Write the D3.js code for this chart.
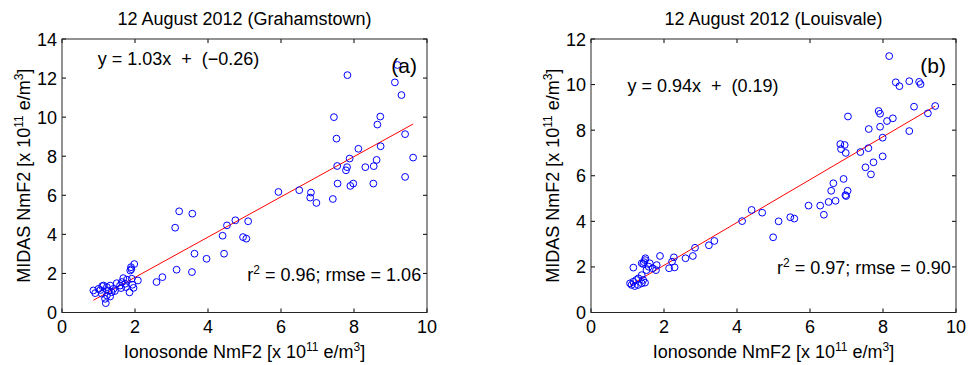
<!DOCTYPE html>
<html>
<head>
<meta charset="utf-8">
<script src="https://cdn.jsdelivr.net/npm/d3@7"></script>
<style>
  body { margin: 0; background: #fff; }
  text { font-family: "Liberation Sans", Arial, Helvetica, sans-serif; fill: #000; }
</style>
</head>
<body>
<div id="chart"></div>
<script>
// Grahamstown: ionosonde (x) vs MIDAS (y) NmF2, x 10^11 e/m^3
var gtX = [9.19, 7.82, 9.12, 9.30, 7.45, 8.72, 8.64, 7.52, 9.40, 8.73, 8.12, 7.88, 9.62, 8.62, 7.54, 7.81, 7.78, 8.31, 8.54, 9.40,
           5.93, 6.50, 6.82, 6.80, 6.97, 7.42, 7.55, 7.90, 7.98, 8.53, 3.21, 3.57, 3.10, 4.52, 4.75, 5.10, 4.40, 4.96, 5.05, 3.63,
           3.96, 4.44, 3.14, 3.56, 2.75, 2.59, 1.98, 1.89, 1.90, 1.87, 2.08, 1.91, 1.78, 1.68, 1.64, 1.50, 1.32, 1.96, 1.85, 1.41,
           1.23, 1.14, 1.00, 0.86, 0.91, 1.09, 1.23, 1.32, 1.18, 1.20, 1.36, 1.59, 1.73, 1.05, 1.45, 1.62, 1.28, 1.75, 1.93, 1.10];
var gtY = [12.67, 12.15, 11.78, 11.13, 10.00, 10.03, 9.62, 8.90, 9.13, 8.51, 8.38, 7.88, 7.93, 7.81, 7.50, 7.44, 7.28, 7.44, 7.49, 6.94,
           6.17, 6.26, 6.14, 5.88, 5.61, 5.81, 6.60, 6.48, 6.60, 6.60, 5.18, 5.06, 4.34, 4.46, 4.72, 4.67, 3.93, 3.86, 3.78, 3.01,
           2.75, 3.01, 2.19, 2.07, 1.81, 1.56, 2.48, 2.32, 2.22, 2.15, 1.64, 1.73, 1.68, 1.76, 1.56, 1.50, 1.38, 1.26, 1.03, 1.21,
           1.30, 1.38, 1.21, 1.13, 0.99, 0.96, 0.87, 0.82, 0.70, 0.48, 1.04, 1.38, 1.47, 1.15, 1.10, 1.25, 1.12, 1.30, 1.42, 1.35];

// Louisvale
var lvX = [8.17, 8.35, 8.45, 8.72, 8.99, 9.03, 8.85, 9.43, 9.23, 7.88, 7.92, 8.27, 8.11, 7.04, 7.61, 7.92, 8.72, 7.99, 6.83, 6.95,
           6.85, 6.98, 7.38, 7.60, 7.99, 7.74, 7.52, 7.67, 6.92, 6.64, 6.58, 7.03, 6.97, 6.99, 6.70, 6.51, 6.28, 5.96, 6.38, 4.40,
           4.69, 4.14, 5.14, 5.46, 5.57, 4.99, 3.38, 3.23, 2.85, 2.79, 2.59, 2.27, 2.22, 2.29, 2.14, 1.89, 1.80, 1.78, 1.69, 1.58,
           1.52, 1.48, 1.45, 1.43, 1.49, 1.39, 1.61, 1.16, 1.39, 1.30, 1.24, 1.43, 1.16, 1.39, 1.11, 1.20, 1.29, 1.07, 1.48];
var lvY = [11.25, 10.10, 9.93, 10.15, 10.12, 10.02, 9.03, 9.06, 8.74, 8.84, 8.72, 8.52, 8.40, 8.60, 8.05, 8.15, 7.96, 7.67, 7.39, 7.35,
           7.17, 7.00, 7.04, 7.21, 6.85, 6.59, 6.37, 6.06, 5.86, 5.67, 5.34, 5.34, 5.15, 5.11, 4.90, 4.85, 4.69, 4.69, 4.29, 4.50,
           4.38, 4.01, 4.00, 4.18, 4.12, 3.30, 3.14, 2.95, 2.84, 2.48, 2.38, 2.42, 2.23, 1.98, 1.94, 2.48, 2.08, 1.86, 1.94, 2.01,
           1.86, 2.30, 2.21, 2.13, 2.38, 2.16, 2.16, 1.97, 1.64, 1.50, 1.43, 1.43, 1.35, 1.28, 1.21, 1.16, 1.21, 1.28, 1.31];

var xTicks = [0, 2, 4, 6, 8, 10];

var panels = [
  { title: "12 August 2012 (Grahamstown)", xs: gtX, ys: gtY, yMax: 14, yTicks: [0, 2, 4, 6, 8, 10, 12, 14],
    slope: 1.03, icpt: -0.26, eq: "y = 1.03x  +  (\u22120.26)", r2: "0.96", rmse: "1.06", tag: "(a)",
    left: 62, eqPos: [0.98, 12.67], statPos: [9.84, 1.6] },
  { title: "12 August 2012 (Louisvale)", xs: lvX, ys: lvY, yMax: 12, yTicks: [0, 2, 4, 6, 8, 10, 12],
    slope: 0.94, icpt: 0.19, eq: "y = 0.94x  +  (0.19)", r2: "0.97", rmse: "0.90", tag: "(b)",
    left: 591, eqPos: [1.0, 9.68], statPos: [9.86, 1.7] }
];

var W = 971, H = 365;
var plotTop = 39, plotBottom = 312.5, pw = 365;
var fs = "18px", sup = "12px";

var svg = d3.select("#chart").append("svg")
  .attr("width", W).attr("height", H);

function addSupLabel(sel, parts) {
  // parts: alternating normal / superscript strings
  parts.forEach(function(t, i) {
    var ts = sel.append("tspan").text(t);
    if (i % 2 === 1) ts.attr("dy", -7).style("font-size", sup);
    else if (i > 0) ts.attr("dy", 7);
  });
}

panels.forEach(function(p) {
  var ph = plotBottom - plotTop;
  var x = d3.scaleLinear().domain([0, 10]).range([0, pw]);
  var y = d3.scaleLinear().domain([0, p.yMax]).range([ph, 0]);

  var g = svg.append("g").attr("transform", "translate(" + p.left + "," + plotTop + ")");

  // ticks on all sides (inside)
  var tl = 4;
  g.selectAll(".xt").data(xTicks).enter().append("path")
    .attr("d", d => "M" + x(d) + "," + ph + "v" + (-tl) + "M" + x(d) + ",0v" + tl)
    .attr("stroke", "#000").attr("stroke-width", 1);
  g.selectAll(".yt").data(p.yTicks).enter().append("path")
    .attr("d", d => "M0," + y(d) + "h" + tl + "M" + pw + "," + y(d) + "h" + (-tl))
    .attr("stroke", "#000").attr("stroke-width", 1);

  g.append("rect").attr("x", 0).attr("y", 0).attr("width", pw).attr("height", ph)
    .attr("fill", "none").attr("stroke", "#262626").attr("stroke-width", 1);

  g.selectAll(".xl").data(xTicks).enter().append("text")
    .attr("x", d => x(d)).attr("y", ph + 20)
    .attr("text-anchor", "middle").style("font-size", fs)
    .text(d => d);
  g.selectAll(".yl").data(p.yTicks).enter().append("text")
    .attr("x", -5).attr("y", d => y(d) + 6.5)
    .attr("text-anchor", "end").style("font-size", fs)
    .text(d => d);

  // fit line over the data range
  var ext = d3.extent(p.xs);
  g.append("line")
    .attr("x1", x(ext[0])).attr("y1", y(p.slope * ext[0] + p.icpt))
    .attr("x2", x(ext[1])).attr("y2", y(p.slope * ext[1] + p.icpt))
    .attr("stroke", "#ff0000").attr("stroke-width", 1);

  g.selectAll("circle").data(p.xs).enter().append("circle")
    .attr("cx", d => x(d)).attr("cy", (d, i) => y(p.ys[i]))
    .attr("r", 3.4)
    .attr("fill", "none").attr("stroke", "#0000ff").attr("stroke-width", 1);

  // annotations
  g.append("text").attr("x", x(p.eqPos[0])).attr("y", y(p.eqPos[1]))
    .style("font-size", fs).style("white-space", "pre").text(p.eq);

  var st = g.append("text").attr("x", x(p.statPos[0])).attr("y", y(p.statPos[1]))
    .attr("text-anchor", "end").style("font-size", fs);
  addSupLabel(st, ["r", "2", " = " + p.r2 + "; rmse = " + p.rmse]);

  g.append("text").attr("x", pw - 10).attr("y", 34)
    .attr("text-anchor", "end").style("font-size", "21px").text(p.tag);

  g.append("text").attr("x", pw / 2).attr("y", -14)
    .attr("text-anchor", "middle").style("font-size", fs).text(p.title);

  // axis titles
  var xt = g.append("text").attr("x", pw / 2).attr("y", ph + 45)
    .attr("text-anchor", "middle").style("font-size", fs);
  addSupLabel(xt, ["Ionosonde NmF2 [x 10", "11", " e/m", "3", "]"]);

  var yt = g.append("text")
    .attr("transform", "translate(-32," + (ph / 2) + ")rotate(-90)")
    .attr("text-anchor", "middle").style("font-size", fs);
  addSupLabel(yt, ["MIDAS NmF2 [x 10", "11", " e/m", "3", "]"]);
});
</script>
</body>
</html>
